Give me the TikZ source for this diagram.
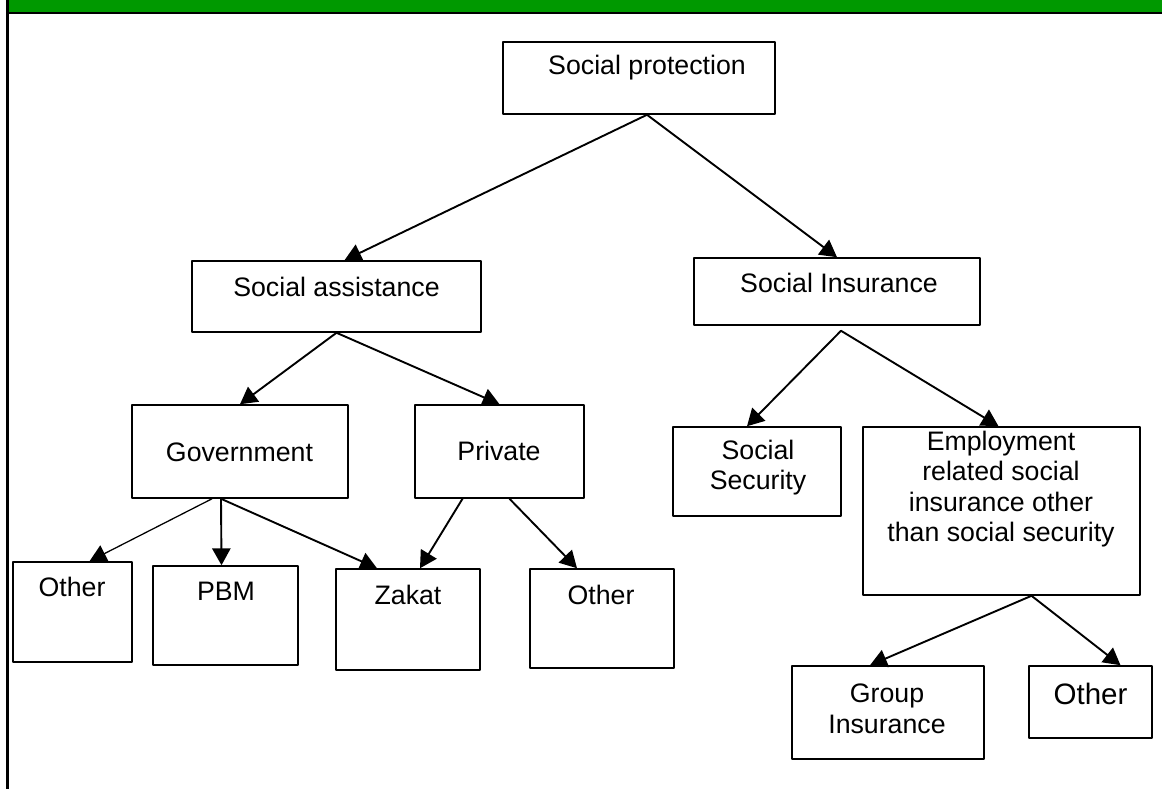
\documentclass[tikz,border=0pt]{standalone}
\usepackage{fontspec}
\setmainfont{Liberation Sans}
\usepackage{tikz}
\usetikzlibrary{arrows.meta,calc,positioning}

\begin{document}
\begin{tikzpicture}[
  x=0.025cm,
  y=-0.025cm,
  line cap=round,
  line join=round,
  font=\fontsize{19}{21.7}\selectfont,
  box/.style 2 args={
    rectangle,
    draw=black,
    line width=1.1pt,
    inner sep=0pt,
    minimum width=#1*0.025cm,
    minimum height=#2*0.025cm
  },
  txt/.style={
    inner sep=0pt,
    align=center
  },
  arr/.style={
    -{Triangle[length=12pt,width=13pt]},
    line width=1.35pt,
    draw=black
  },
  thinarr/.style={
    arr,
    line width=0.9pt
  }
]

\useasboundingbox (0,0) rectangle (1162,789);

% frame: green band on top, black rules
\fill[green!60!black] (8,0) rectangle (1162,12);
\fill[black] (6,12) rectangle (1162,14);
\fill[black] (6,0) rectangle (8.5,789);

% boxes
\node[box={272}{72}]  (sp)   at (639,78)       {};
\node[box={289}{71}]  (sa)   at (336.5,296.5)  {};
\node[box={286}{67}]  (si)   at (837,291.5)    {};
\node[box={216}{93}]  (gov)  at (240,451.5)    {};
\node[box={169}{93}]  (prv)  at (499.5,451.5)  {};
\node[box={168}{89}]  (ss)   at (757,471.5)    {};
\node[box={277}{168}] (emp)  at (1001.5,511)   {};
\node[box={119}{100}] (oth1) at (72.5,612)     {};
\node[box={145}{99}]  (pbm)  at (225.5,615.5)  {};
\node[box={144}{101}] (zak)  at (408,619.5)    {};
\node[box={144}{99}]  (oth2) at (602,618.5)    {};
\node[box={192}{93}]  (grp)  at (888,712.5)    {};
\node[box={123}{72}]  (oth3) at (1090.5,702)   {};

% texts
\node[txt] (spT)   at (647,68)    {Social protection};
\node[txt] (saT)   at (336.5,287) {Social assistance};
\node[txt] (siT)   at (839,283)   {Social Insurance};
\node[txt] (govT)  at (239.5,452) {Government};
\node[txt] (prvT)  at (499,451)   {Private};
\node[txt] (ssT)   at (758,467.5) {Social\\Security};
\node[txt] (empT)  at (1001,489) {Employment\\related social\\insurance other\\than social security};
\node[txt] (oth1T) at (72,587)    {Other};
\node[txt] (pbmT)  at (226,591)   {PBM};
\node[txt] (zakT)  at (408,595)   {Zakat};
\node[txt] (oth2T) at (601,595)   {Other};
\node[txt] (grpT)  at (887,709)   {Group\\Insurance};
\node[txt, font=\fontsize{21}{24}\selectfont] (oth3T) at (1090.5,694) {Other};

% connectors
\draw[arr] ($(sp.south)+(8,0)$) -- ($(sa.north)+(8,0)$);
\draw[arr] ($(sp.south)+(8,0)$) -- (si.north);
\draw[arr] (sa.south) -- (gov.north);
\draw[arr] (sa.south) -- (prv.north);
\draw[arr] ($(si.south)+(4,5)$) -- ($(ss.north)+(-10,0)$);
\draw[arr] ($(si.south)+(4,5)$) -- ($(emp.north)+(-3,0)$);
\draw[thinarr] ($(gov.south)+(-28,0)$) -- ($(oth1.north)+(17,0)$);
\draw[arr] ($(gov.south)+(-19,0)$) -- ($(pbm.north)+(-4,0)$);
\draw[arr] ($(gov.south)+(-19,0)$) -- ($(zak.north)+(-31,0)$);
\draw[arr] ($(prv.south)+(-37,0)$) -- ($(zak.north)+(12,0)$);
\draw[arr] ($(prv.south)+(10,0)$) -- ($(oth2.north)+(-25,0)$);
\draw[arr] ($(emp.south)+(30,0)$) -- ($(grp.north)+(-18,0)$);
\draw[arr] ($(emp.south)+(30,0)$) -- ($(oth3.north)+(30,0)$);

\end{tikzpicture}
\end{document}
